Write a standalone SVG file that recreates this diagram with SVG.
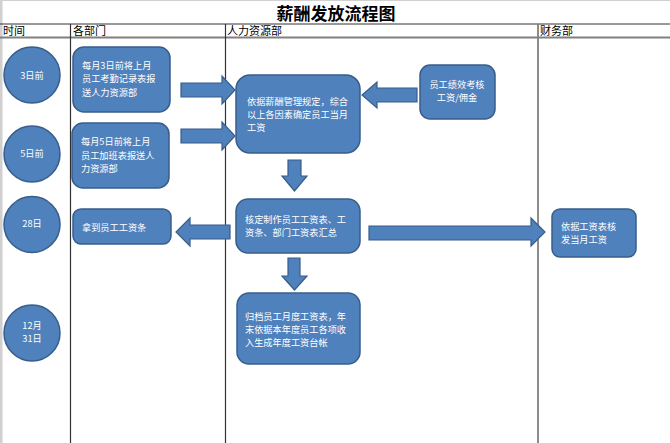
<svg xmlns="http://www.w3.org/2000/svg" width="670" height="443" viewBox="0 0 670 443">
<style>
.node{fill:#4F81BD;stroke:#385D8A;stroke-width:1.5}
.arr{fill:#4F81BD;stroke:#385D8A;stroke-width:1.2}
.t{font-family:"Noto Sans CJK SC","Microsoft YaHei",sans-serif;font-size:9.2px;fill:#FFFFFF}
.tc{text-anchor:middle}
.h{font-family:"Noto Sans CJK SC",sans-serif;font-size:11px;fill:#000}
.title{font-family:"Noto Sans CJK SC",sans-serif;font-size:17px;font-weight:bold;fill:#000;text-anchor:middle}
</style>
<rect x="0" y="0" width="670" height="443" fill="#FFFFFF"/>
<g id="grid">
<rect x="0" y="0" width="2.5" height="443" fill="#D0D0D0"/>
<line x1="0" y1="0.5" x2="670" y2="0.5" stroke="#D0D0D0"/>
<line x1="0" y1="24" x2="670" y2="24" stroke="#333" stroke-width="1"/>
<line x1="0" y1="37.5" x2="670" y2="37.5" stroke="#808080" stroke-width="2"/>
<line x1="70.5" y1="24" x2="70.5" y2="443" stroke="#333" stroke-width="1.2"/>
<line x1="225.5" y1="24" x2="225.5" y2="443" stroke="#333" stroke-width="1.2"/>
<line x1="538" y1="24" x2="538" y2="443" stroke="#808080" stroke-width="1.8"/>
</g>
<text class="title" x="336" y="20">薪酬发放流程图</text>
<g id="headers">
<text class="h" x="3" y="35">时间</text>
<text class="h" x="73" y="35">各部门</text>
<text class="h" x="227" y="35">人力资源部</text>
<text class="h" x="540" y="35">财务部</text>
</g>
<g id="connectors">
<polygon class="arr" points="181,83 222,83 222,76 235,90 222,104 222,97 181,97"/>
<polygon class="arr" points="181,129 222,129 222,122 235,136 222,150 222,143 181,143"/>
<polygon class="arr" points="417,88 377,88 377,82 362,95 377,108 377,102 417,102"/>
<polygon class="arr" points="288,160 301,160 301,176 307,176 294.5,191 282,176 288,176"/>
<polygon class="arr" points="288,258 300,258 300,276 307,276 294.5,290 282,276 288,276"/>
<polygon class="arr" points="230,225 190,225 190,218 176,232 190,246 190,239 230,239"/>
<polygon class="arr" points="369,226 531,226 531,218 545,232 531,246 531,240 369,240"/>
</g>
<g id="c1"><circle class="node" cx="32" cy="75" r="28"/><text class="t tc" x="32" y="78.5">3日前</text></g>
<g id="c2"><circle class="node" cx="32" cy="154" r="28"/><text class="t tc" x="32" y="157">5日前</text></g>
<g id="c3"><circle class="node" cx="32" cy="224.5" r="28"/><text class="t tc" x="32" y="227">28日</text></g>
<g id="c4"><circle class="node" cx="32" cy="333" r="28"/><text class="t tc" x="32" y="328.5">12月</text><text class="t tc" x="32" y="342">31日</text></g>
<g id="d1"><rect class="node" x="73" y="47" width="97" height="65" rx="11"/>
<text class="t" x="82" y="68.5">每月3日前将上月</text><text class="t" x="82" y="82">员工考勤记录表报</text><text class="t" x="82" y="95.5">送人力资源部</text></g>
<g id="d2"><rect class="node" x="72" y="123" width="97" height="65" rx="11"/>
<text class="t" x="81" y="145">每月5日前将上月</text><text class="t" x="81" y="158.5">员工加班表报送人</text><text class="t" x="81" y="172">力资源部</text></g>
<g id="d3"><rect class="node" x="73" y="209" width="98" height="35" rx="8"/>
<text class="t" x="82" y="230.5">拿到员工工资条</text></g>
<g id="h1"><rect class="node" x="236" y="75" width="124" height="78" rx="14"/>
<text class="t" x="247" y="105">依据薪酬管理规定，综合</text><text class="t" x="247" y="118">以上各因素确定员工当月</text><text class="t" x="247" y="131">工资</text></g>
<g id="h2"><rect class="node" x="420" y="65" width="75" height="54" rx="10"/>
<text class="t tc" x="457" y="88">员工绩效考核</text><text class="t tc" x="457" y="101">工资/佣金</text></g>
<g id="h3"><rect class="node" x="236" y="199" width="124" height="54" rx="12"/>
<text class="t" x="245" y="223">核定制作员工工资表、工</text><text class="t" x="245" y="236">资条、部门工资表汇总</text></g>
<g id="h4"><rect class="node" x="237" y="293" width="123" height="71" rx="12"/>
<text class="t" x="245" y="320">归档员工月度工资表，年</text><text class="t" x="245" y="333">末依据本年度员工各项收</text><text class="t" x="245" y="346">入生成年度工资台帐</text></g>
<g id="f1"><rect class="node" x="552" y="209" width="84" height="48" rx="8"/>
<text class="t" x="561" y="230">依据工资表核</text><text class="t" x="561" y="243">发当月工资</text></g>
</svg>
